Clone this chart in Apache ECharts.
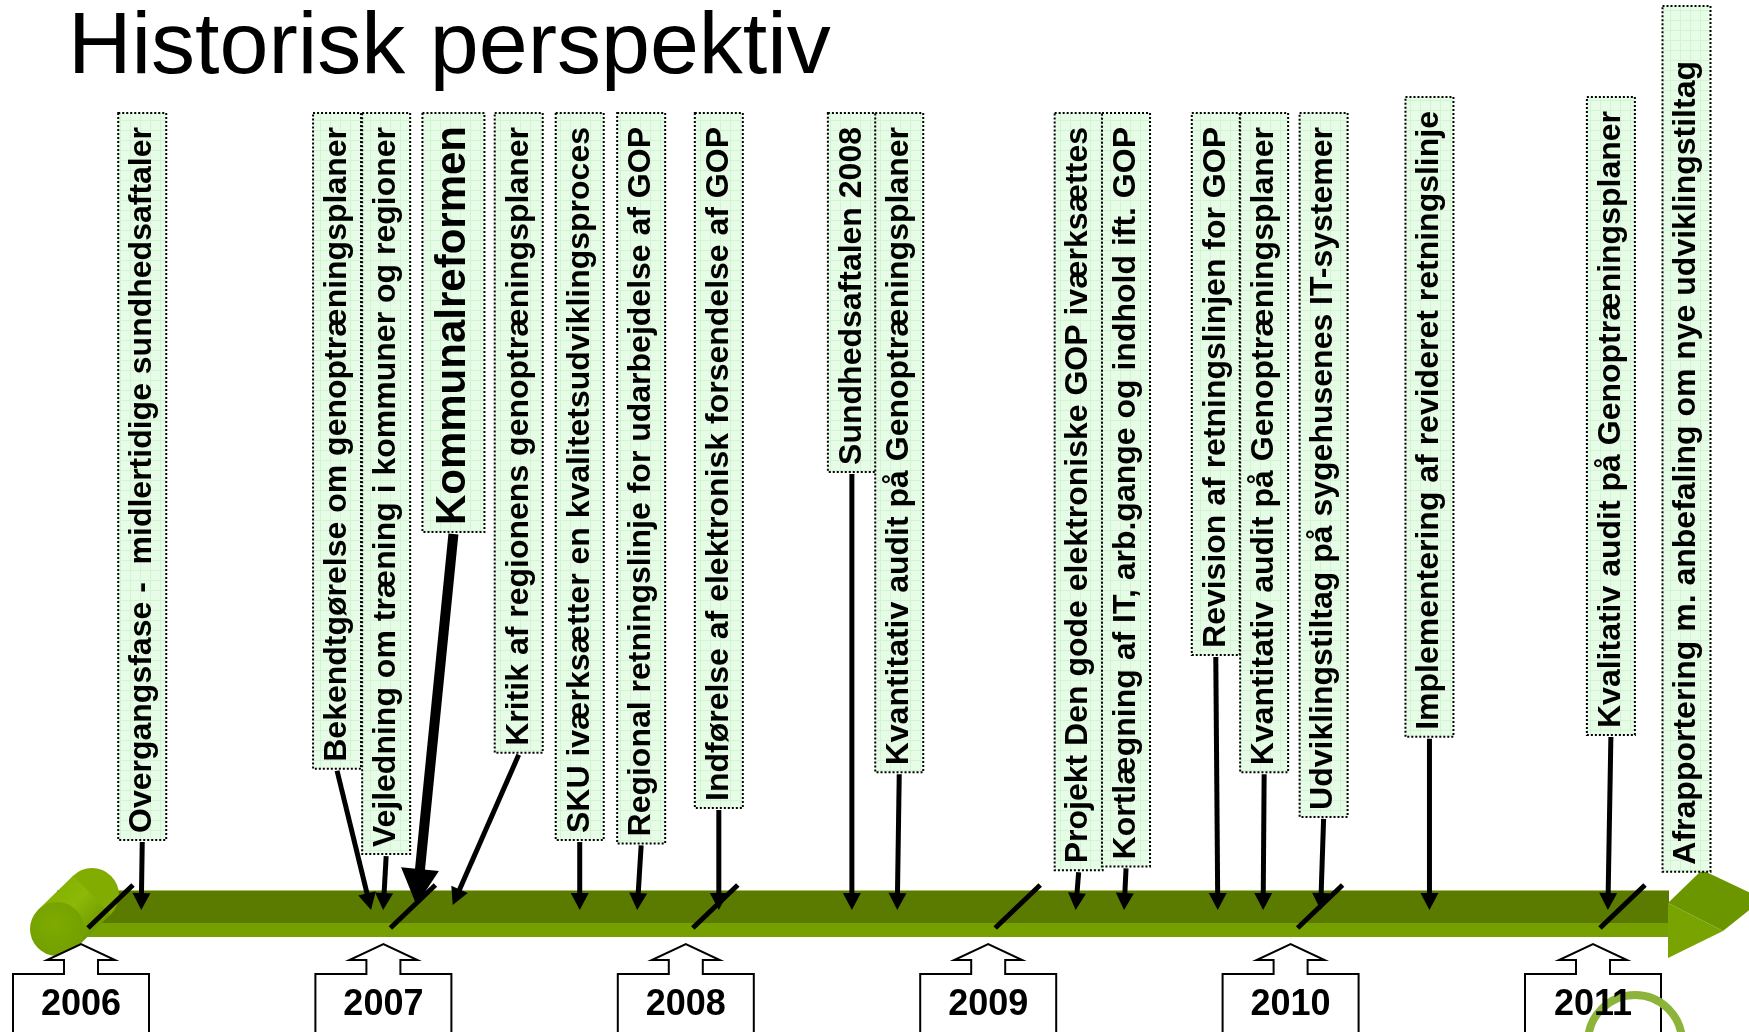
<!DOCTYPE html>
<html><head><meta charset="utf-8">
<script src="https://cdn.jsdelivr.net/npm/echarts@6/dist/echarts.min.js"></script>
<style>html,body{margin:0;padding:0;background:#fff}#c{width:1749px;height:1032px}</style>
</head><body><div id="c"></div>
<script>
// ---------------- data ----------------
const titleText = 'Historisk perspektiv';
const years = [2006, 2007, 2008, 2009, 2010, 2011];
const yearLabels = ['2006', '2007', '2008', '2009', '2010', '2011'];
const eventDates = [2006.10, 2006.86, 2006.90, 2007.01, 2007.13, 2007.55, 2007.74, 2008.01, 2008.45,
                    2008.60, 2009.19, 2009.35, 2009.66, 2009.81, 2010.00, 2010.36, 2010.95, 2011.21];
const eventLabels = [
  'Overgangsfase -  midlertidige sundhedsaftaler',
  'Bekendtgørelse om genoptræningsplaner',
  'Vejledning om træning i kommuner og regioner',
  'Kommunalreformen',
  'Kritik af regionens genoptræningsplaner',
  'SKU iværksætter en kvalitetsudviklingsproces',
  'Regional retningslinje for udarbejdelse af GOP',
  'Indførelse af elektronisk forsendelse af GOP',
  'Sundhedsaftalen 2008',
  'Kvantitativ audit på Genoptræningsplaner',
  'Projekt Den gode elektroniske GOP iværksættes',
  'Kortlægning af IT, arb.gange og indhold ift. GOP',
  'Revision af retningslinjen for GOP',
  'Kvantitativ audit på Genoptræningsplaner',
  'Udviklingstiltag på sygehusenes IT-systemer',
  'Implementering af revideret retningslinje',
  'Kvalitativ audit på Genoptræningsplaner',
  'Afrapportering m. anbefaling om nye udviklingstiltag'
];

// ---------------- layout / style ----------------
const FONT = 'Arial, "Liberation Sans", Helvetica, sans-serif';
const layout = eventLabels.map(() => ({dx: 0, top: 113, padTop: 14, padBottom: 7, size: 32, boxW: 48, arrow: true, lw: 5, hl: 17, hw: 9, tipY: 910}));
Object.assign(layout[0], {dx: 1});
Object.assign(layout[1], {dx: -34});
Object.assign(layout[2], {dx: 3});
Object.assign(layout[3], {dx: 37, size: 42, boxW: 62, lw: 10, hl: 36, hw: 19, tipY: 905, padTop: 13});
Object.assign(layout[4], {dx: 66, tipY: 905});
Object.assign(layout[6], {dx: 4});
Object.assign(layout[9], {dx: 2});
Object.assign(layout[10], {dx: 3});
Object.assign(layout[11], {dx: 2});
Object.assign(layout[12], {dx: -2});
Object.assign(layout[13], {dx: 1});
Object.assign(layout[14], {dx: 3});
Object.assign(layout[15], {top: 97});
Object.assign(layout[16], {top: 97, dx: 3});
Object.assign(layout[17], {top: 6, padTop: 55, arrow: false});

const mctx = document.createElement('canvas').getContext('2d');
function textW(t, size) { mctx.font = 'bold ' + size + 'px ' + FONT; return mctx.measureText(t).width; }

// light green grid pattern for the label boxes
const pat = document.createElement('canvas');
pat.width = 10; pat.height = 10;
(function () {
  const c = pat.getContext('2d');
  c.fillStyle = '#e6fce6'; c.fillRect(0, 0, 10, 10);
  c.fillStyle = '#d3f4d3'; c.fillRect(0, 0, 10, 1); c.fillRect(0, 0, 1, 10);
})();

function arrowEls(sx, sy, tx, ty, lw, hl, hw) {
  const dx = tx - sx, dy = ty - sy, len = Math.hypot(dx, dy);
  const ux = dx / len, uy = dy / len;
  const bx = tx - ux * hl, by = ty - uy * hl;
  const nx = -uy, ny = ux;
  return [
    {type: 'line', shape: {x1: sx, y1: sy, x2: bx + ux * 3, y2: by + uy * 3}, style: {stroke: '#000', lineWidth: lw}},
    {type: 'polygon', shape: {points: [[tx, ty], [bx + nx * hw, by + ny * hw], [bx - nx * hw, by - ny * hw]]}, style: {fill: '#000'}}
  ];
}

const chart = echarts.init(document.getElementById('c'), null, {renderer: 'canvas'});
const option = {
  animation: false,
  backgroundColor: '#fff',
  title: {text: titleText, left: 68, top: 5, padding: 0,
    textStyle: {fontFamily: FONT, fontSize: 88, fontWeight: 'normal', color: '#000'}},
  grid: {left: 111, right: 126, top: 0, bottom: 0},
  xAxis: {type: 'value', min: 2006, max: 2011, show: false},
  yAxis: {type: 'value', min: 0, max: 1032, inverse: true, show: false},
  series: [
    { // timeline bar, cylinder and arrow head
      type: 'custom', z: 1, clip: false, silent: true,
      data: [[years[0], years[years.length - 1]]],
      renderItem(params, api) {
        const x0 = api.coord([api.value(0), 0])[0];
        const x1 = api.coord([api.value(1), 0])[0];
        const fx = x0 - 54, fy = 929, bx = x0 - 19, by = 895, r = 27;
        const ax = bx - fx, ay = by - fy, al = Math.hypot(ax, ay);
        const px = -ay / al * r, py = ax / al * r;
        return {type: 'group', children: [
          {type: 'rect', shape: {x: fx, y: 891, width: x1 + 46 - fx, height: 32}, style: {fill: '#5b7a00'}},
          {type: 'rect', shape: {x: fx, y: 923, width: x1 + 46 - fx, height: 14}, style: {fill: '#76a000'}},
          {type: 'line', shape: {x1: fx, y1: 890.5, x2: x1 + 46, y2: 890.5}, style: {stroke: '#a9bf70', lineWidth: 1}},
          // arrow head
          {type: 'polygon', shape: {points: [[x1 + 45, 903], [x1 + 79, 870], [x1 + 140, 899], [x1 + 100, 931]]}, style: {fill: '#6c9600'}},
          {type: 'polygon', shape: {points: [[x1 + 45, 903], [x1 + 100, 931], [x1 + 45, 958]]}, style: {fill: '#78a300'}},
          // cylinder
          {type: 'circle', shape: {cx: bx, cy: by, r: r}, style: {fill: '#82ad00'}},
          {type: 'polygon', shape: {points: [[fx - px, fy - py], [bx - px, by - py], [bx + px, by + py], [fx + px, fy + py]]},
            style: {fill: {type: 'linear', x: fx - px, y: fy - py, x2: fx + px, y2: fy + py, global: true,
              colorStops: [{offset: 0, color: '#86b200'}, {offset: 0.4, color: '#8cb808'}, {offset: 1, color: '#6f9a00'}]}}},
          {type: 'circle', shape: {cx: fx, cy: fy, r: r},
            style: {fill: {type: 'radial', x: 0.45, y: 0.4, r: 0.7,
              colorStops: [{offset: 0, color: '#7eaa00'}, {offset: 1, color: '#729e00'}]}}}
        ]};
      }
    },
    { // year ticks and year callouts
      type: 'custom', z: 2, clip: false, silent: true,
      data: years.map(y => [y]),
      renderItem(params, api) {
        const tx = api.coord([api.value(0), 0])[0];
        const cx = tx - 30;
        const children = [
          {type: 'line', shape: {x1: tx - 23, y1: 928, x2: tx + 22, y2: 885}, style: {stroke: '#000', lineWidth: 5}},
          {type: 'polygon', shape: {points: [[cx - 68, 1045], [cx - 68, 974], [cx - 17, 974], [cx - 17, 960], [cx - 34, 960], [cx, 944],
            [cx + 34, 960], [cx + 17, 960], [cx + 17, 974], [cx + 68, 974], [cx + 68, 1045]]},
            style: {fill: '#fff', stroke: '#000', lineWidth: 2}}
        ];
        if (params.dataIndex === years.length - 1) {
          children.push({type: 'circle', shape: {cx: cx + 42, cy: 1042, r: 47}, style: {fill: null, stroke: '#8db43a', lineWidth: 8}});
        }
        children.push({type: 'text', x: cx, y: 1005, style: {text: yearLabels[params.dataIndex], fill: '#000',
          font: 'bold 36px ' + FONT, align: 'center', verticalAlign: 'middle'}});
        return {type: 'group', children};
      }
    },
    { // events
      type: 'custom', z: 3, clip: false, silent: true,
      data: eventDates.map(d => [d]),
      renderItem(params, api) {
        const i = params.dataIndex;
        const L = layout[i];
        const tipX = api.coord([api.value(0), 0])[0];
        const cx = tipX + L.dx;
        const w = textW(eventLabels[i], L.size);
        const bottom = L.top + L.padTop + w + L.padBottom;
        const children = [
          {type: 'rect', shape: {x: cx - L.boxW / 2, y: L.top, width: L.boxW, height: bottom - L.top},
            style: {fill: {image: pat, repeat: 'repeat'}, stroke: '#000', lineWidth: 2, lineDash: [2, 2]}},
          {type: 'text', x: cx, y: bottom - L.padBottom, rotation: Math.PI / 2,
            style: {text: eventLabels[i], x: 0, y: 0, fill: '#000', font: 'bold ' + L.size + 'px ' + FONT,
              align: 'left', verticalAlign: 'middle'}}
        ];
        if (L.arrow) {
          arrowEls(cx, bottom + 2, tipX, L.tipY, L.lw, L.hl, L.hw).forEach(e => children.push(e));
        }
        return {type: 'group', children};
      }
    }
  ]
};
chart.setOption(option);
</script>
</body></html>
